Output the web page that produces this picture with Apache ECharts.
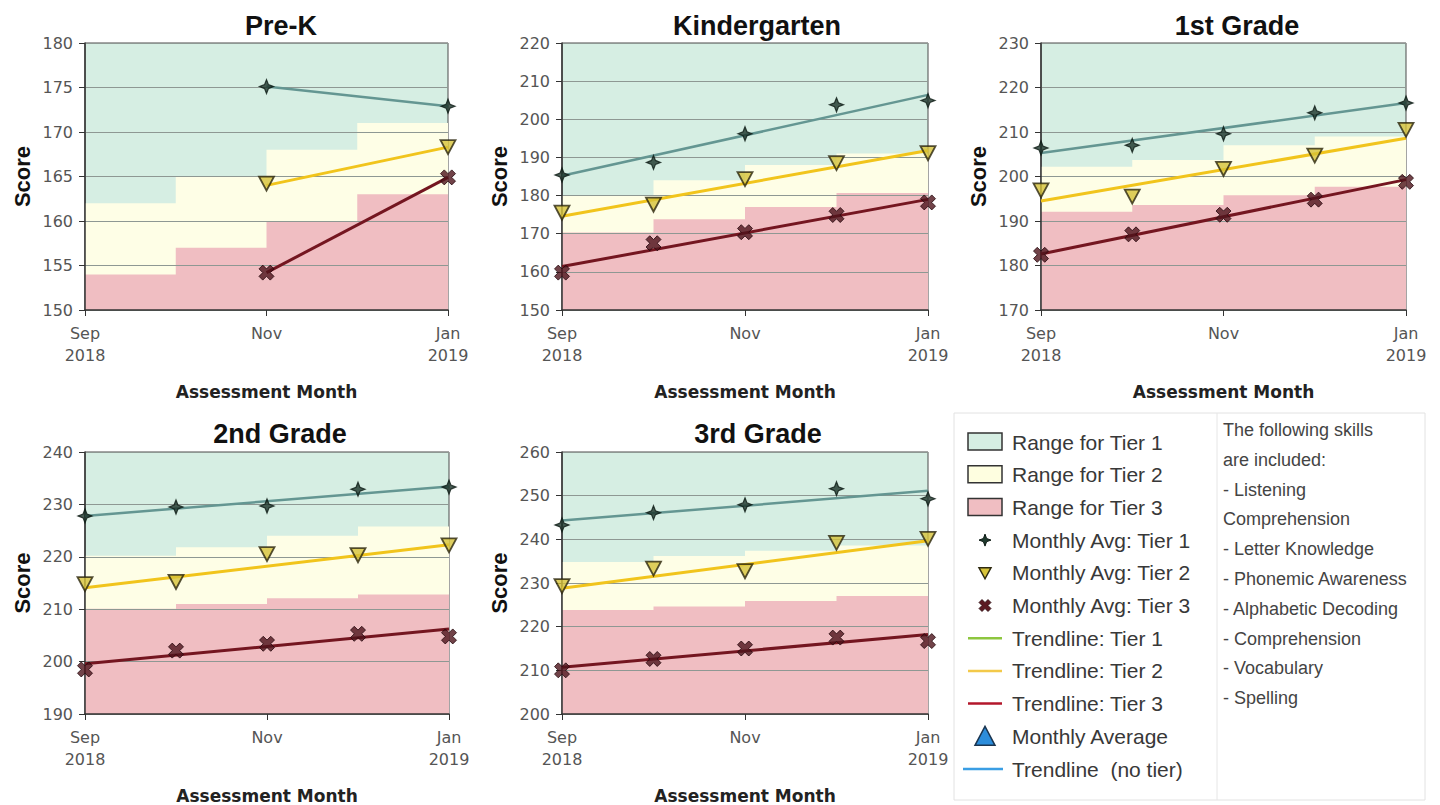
<!DOCTYPE html>
<html><head><meta charset="utf-8">
<script src="https://cdn.jsdelivr.net/npm/echarts@6/dist/echarts.min.js"></script>
<style>html,body{margin:0;padding:0;background:#fff}#c{width:1440px;height:805px}</style>
</head><body><div id="c"></div>
<script>
// ---------- data ----------
const MONTHS = ['Sep\n2018', 'Oct', 'Nov', 'Dec', 'Jan\n2019'];
const PANEL_TITLES = ['Pre-K', 'Kindergarten', '1st Grade', '2nd Grade', '3rd Grade'];
const Y_MIN = [150, 150, 170, 190, 200];
const Y_MAX = [180, 220, 230, 240, 260];
const Y_STEP = [5, 10, 10, 10, 10];

// upper edge of tier ranges (tier 1 range is everything above tier 2)
const PREK_BAND_T2 = [162, 165, 168, 171, 171];
const PREK_BAND_T3 = [154, 157, 160, 163, 163];
const K_BAND_T2 = [180, 184, 188, 191, 191];
const K_BAND_T3 = [170.3, 173.8, 177, 180.7, 180.7];
const G1_BAND_T2 = [202.2, 203.7, 207, 209, 209];
const G1_BAND_T3 = [192.1, 193.6, 195.8, 197.7, 197.7];
const G2_BAND_T2 = [220.2, 221.8, 224, 225.8, 225.8];
const G2_BAND_T3 = [210.1, 211, 212.1, 212.8, 212.8];
const G3_BAND_T2 = [234.8, 236.2, 237.4, 238.6, 238.6];
const G3_BAND_T3 = [223.8, 224.6, 225.9, 227, 227];

// monthly averages
const PREK_AVG_T1 = [null, null, 175.1, null, 172.9];
const PREK_AVG_T2 = [null, null, 164.2, null, 168.3];
const PREK_AVG_T3 = [null, null, 154.2, null, 164.9];
const K_AVG_T1 = [185.4, 188.7, 196.2, 203.8, 204.9];
const K_AVG_T2 = [175.5, 177.6, 184.3, 188.5, 191.1];
const K_AVG_T3 = [159.8, 167.5, 170.4, 174.9, 178.2];
const G1_AVG_T1 = [206.4, 207, 209.6, 214.3, 216.5];
const G1_AVG_T2 = [196.9, 195.5, 201.7, 204.7, 210.5];
const G1_AVG_T3 = [182.4, 187, 191.4, 194.8, 198.8];
const G2_AVG_T1 = [227.8, 229.5, 229.7, 232.9, 233.3];
const G2_AVG_T2 = [214.8, 215.2, 220.5, 220.3, 222.2];
const G2_AVG_T3 = [198.5, 202.1, 203.4, 205.3, 204.8];
const G3_AVG_T1 = [243.3, 246.1, 247.9, 251.6, 249.3];
const G3_AVG_T2 = [229.3, 233.3, 232.7, 239.2, 240.1];
const G3_AVG_T3 = [210, 212.6, 215, 217.5, 216.7];

// trendlines: [value at first month, value at last month]
const TREND_START = [2, 0, 0, 0, 0];
const PREK_TREND_T1 = [175.1, 172.9];
const PREK_TREND_T2 = [164.0, 168.3];
const PREK_TREND_T3 = [154.2, 164.9];
const K_TREND_T1 = [185.2, 206.4];
const K_TREND_T2 = [174.6, 191.8];
const K_TREND_T3 = [161.4, 179.0];
const G1_TREND_T1 = [205.3, 216.5];
const G1_TREND_T2 = [194.5, 208.6];
const G1_TREND_T3 = [182.6, 199.3];
const G2_TREND_T1 = [227.8, 233.4];
const G2_TREND_T2 = [214.1, 222.3];
const G2_TREND_T3 = [199.6, 206.2];
const G3_TREND_T1 = [244.3, 251.1];
const G3_TREND_T2 = [228.8, 239.7];
const G3_TREND_T3 = [210.7, 218.2];

const LEGEND_LABELS = ['Range for Tier 1', 'Range for Tier 2', 'Range for Tier 3',
  'Monthly Avg: Tier 1', 'Monthly Avg: Tier 2', 'Monthly Avg: Tier 3',
  'Trendline: Tier 1', 'Trendline: Tier 2', 'Trendline: Tier 3',
  'Monthly Average', 'Trendline  (no tier)'];
const SKILLS_NOTE = ['The following skills', 'are included:', '- Listening', 'Comprehension',
  '- Letter Knowledge', '- Phonemic Awareness', '- Alphabetic Decoding', '- Comprehension',
  '- Vocabulary', '- Spelling'];

// ---------- assembly ----------
const PANELS = [
  {b2: PREK_BAND_T2, b3: PREK_BAND_T3, a1: PREK_AVG_T1, a2: PREK_AVG_T2, a3: PREK_AVG_T3, t1: PREK_TREND_T1, t2: PREK_TREND_T2, t3: PREK_TREND_T3},
  {b2: K_BAND_T2, b3: K_BAND_T3, a1: K_AVG_T1, a2: K_AVG_T2, a3: K_AVG_T3, t1: K_TREND_T1, t2: K_TREND_T2, t3: K_TREND_T3},
  {b2: G1_BAND_T2, b3: G1_BAND_T3, a1: G1_AVG_T1, a2: G1_AVG_T2, a3: G1_AVG_T3, t1: G1_TREND_T1, t2: G1_TREND_T2, t3: G1_TREND_T3},
  {b2: G2_BAND_T2, b3: G2_BAND_T3, a1: G2_AVG_T1, a2: G2_AVG_T2, a3: G2_AVG_T3, t1: G2_TREND_T1, t2: G2_TREND_T2, t3: G2_TREND_T3},
  {b2: G3_BAND_T2, b3: G3_BAND_T3, a1: G3_AVG_T1, a2: G3_AVG_T2, a3: G3_AVG_T3, t1: G3_TREND_T1, t2: G3_TREND_T2, t3: G3_TREND_T3}
];

const GRID_POS = [
  {left: 85, top: 43, width: 363, height: 267},
  {left: 562, top: 43, width: 366, height: 267},
  {left: 1041, top: 43, width: 365, height: 267},
  {left: 85, top: 452, width: 364, height: 265},
  {left: 562, top: 452, width: 366, height: 265}
];
const TITLE_POS = [[281, 27], [757, 27], [1237, 27], [280, 435], [758, 435]];

const C_T1 = '#d6eee3', C_T2 = '#fefee6', C_T3 = '#f0bec2';
const C_TR1 = '#649692', C_TR2 = '#f1c41c', C_TR3 = '#741620';
const STAR = 'path://M0,-10 L2.8,-2.8 L10,0 L2.8,2.8 L0,10 L-2.8,2.8 L-10,0 L-2.8,-2.8 Z';
const TRI_DOWN = 'path://M-10,-8 L10,-8 L0,9 Z';
const XMARK = 'path://M-10,-5 L-5,-10 L0,-5 L5,-10 L10,-5 L5,0 L10,5 L5,10 L0,5 L-5,10 L-10,5 L-5,0 Z';

const grids = [], xAxes = [], yAxes = [], series = [], titles = [];
PANELS.forEach((p, i) => {
  grids.push(Object.assign({show: true, backgroundColor: C_T1, borderColor: '#4a4a4a', borderWidth: 1, containLabel: false}, GRID_POS[i]));
  titles.push({text: PANEL_TITLES[i], left: TITLE_POS[i][0], top: TITLE_POS[i][1] - 15, textAlign: 'center', padding: 0,
    textStyle: {fontFamily: 'Liberation Sans', fontWeight: 'bold', fontSize: 27, color: '#111'}});
  xAxes.push({gridIndex: i, type: 'category', data: MONTHS, boundaryGap: false, z: 3,
    axisLine: {show: true, lineStyle: {color: '#333', width: 1.5}},
    axisTick: {show: true, interval: 1, length: 6, lineStyle: {color: '#333'}},
    axisLabel: {interval: 1, color: '#555', fontSize: 16, fontFamily: 'DejaVu Sans', lineHeight: 22, margin: 12},
    splitLine: {show: false},
    name: 'Assessment Month', nameLocation: 'middle', nameGap: 73,
    nameTextStyle: {fontFamily: 'DejaVu Sans', fontWeight: 'bold', fontSize: 17, color: '#222'}});
  yAxes.push({gridIndex: i, type: 'value', min: Y_MIN[i], max: Y_MAX[i], interval: Y_STEP[i], z: 3,
    axisLine: {show: true, lineStyle: {color: '#333', width: 1.5}},
    axisTick: {show: true, length: 6, lineStyle: {color: '#333'}},
    axisLabel: {color: '#555', fontSize: 16, fontFamily: 'DejaVu Sans', margin: 12},
    splitLine: {show: true, lineStyle: {color: '#8e9893', width: 1}},
    name: 'Score', nameLocation: 'middle', nameGap: 52, nameRotate: 90,
    nameTextStyle: {fontFamily: 'Liberation Sans', fontWeight: 'bold', fontSize: 22, color: '#111'}});
  const ax = {xAxisIndex: i, yAxisIndex: i};
  series.push(Object.assign({type: 'line', step: 'end', data: p.b2, symbol: 'none', silent: true, z: 1,
    lineStyle: {width: 0}, areaStyle: {color: C_T2, opacity: 1, origin: 'start'}}, ax));
  series.push(Object.assign({type: 'line', step: 'end', data: p.b3, symbol: 'none', silent: true, z: 2,
    lineStyle: {width: 0}, areaStyle: {color: C_T3, opacity: 1, origin: 'start'}}, ax));
  const s = TREND_START[i], e = MONTHS.length - 1;
  [[p.t1, C_TR1, 2.5], [p.t2, C_TR2, 3], [p.t3, C_TR3, 3]].forEach(([t, c, w]) => {
    series.push(Object.assign({type: 'line', data: [[MONTHS[s], t[0]], [MONTHS[e], t[1]]], symbol: 'none', z: 4,
      lineStyle: {color: c, width: w}}, ax));
  });
  series.push(Object.assign({type: 'scatter', data: p.a1, symbol: STAR, symbolSize: 14, z: 5,
    itemStyle: {color: '#1c3329', borderColor: '#0d1a14', borderWidth: 1.2}}, ax));
  series.push(Object.assign({type: 'scatter', data: p.a2, symbol: TRI_DOWN, symbolSize: [15, 14], z: 5,
    itemStyle: {color: '#d6c238', borderColor: '#2a260e', borderWidth: 1.8}}, ax));
  series.push(Object.assign({type: 'scatter', data: p.a3, symbol: XMARK, symbolSize: 15, z: 5,
    itemStyle: {color: '#4e141b', borderColor: '#24080c', borderWidth: 1}}, ax));
});

// ---------- legend panel ----------
const LX = 954, LY = 413, LW = 471, LH = 387, DIV_X = 1217;
const ROW0 = 442, ROW_H = 32.7, ICON_X = 985, TEXT_X = 1012;
const graphics = [
  {type: 'rect', shape: {x: LX, y: LY, width: LW, height: LH}, style: {fill: '#fff', stroke: '#e2e2e2', lineWidth: 1}},
  {type: 'line', shape: {x1: DIV_X, y1: LY, x2: DIV_X, y2: LY + LH}, style: {stroke: '#e6e6e6', lineWidth: 1}}
];
function poly(cx, cy, pts, fill, stroke, lw) {
  return {type: 'polygon', shape: {points: pts.map(([a, b]) => [cx + a, cy + b])}, style: {fill, stroke, lineWidth: lw}};
}
LEGEND_LABELS.forEach((lab, k) => {
  const cy = ROW0 + k * ROW_H;
  if (k < 3) {
    graphics.push({type: 'rect', shape: {x: ICON_X - 17, y: cy - 9, width: 34, height: 17},
      style: {fill: [C_T1, '#fefee0', C_T3][k], stroke: '#333', lineWidth: 1.5}});
  } else if (k === 3) {
    graphics.push(poly(ICON_X, cy, [[0,-6],[1.6,-1.6],[6,0],[1.6,1.6],[0,6],[-1.6,1.6],[-6,0],[-1.6,-1.6]], '#1f3a2e', '#0d1a14', 1));
  } else if (k === 4) {
    graphics.push(poly(ICON_X, cy, [[-6,-5],[6,-5],[0,6]], '#d8c43a', '#2e2a10', 1.5));
  } else if (k === 5) {
    graphics.push(poly(ICON_X, cy, [[-6,-3],[-3,-6],[0,-3],[3,-6],[6,-3],[3,0],[6,3],[3,6],[0,3],[-3,6],[-6,3],[-3,0]], '#5b1a22', '#2a0a0e', 0.8));
  } else if (k >= 6 && k <= 8) {
    graphics.push({type: 'line', shape: {x1: ICON_X - 17, y1: cy, x2: ICON_X + 17, y2: cy},
      style: {stroke: ['#8dc63f', '#f3c94a', '#b3172b'][k - 6], lineWidth: 2.5}});
  } else if (k === 9) {
    graphics.push(poly(ICON_X, cy, [[-10,9],[10,9],[0,-10]], '#2c8ddb', '#1b3550', 1.5));
  } else {
    graphics.push({type: 'line', shape: {x1: ICON_X - 22, y1: cy, x2: ICON_X + 18, y2: cy},
      style: {stroke: '#3a9ee4', lineWidth: 2.5}});
  }
  graphics.push({type: 'text', x: TEXT_X, y: cy, style: {text: lab, fill: '#383838',
    font: '21px "Liberation Sans"', align: 'left', verticalAlign: 'middle'}});
});
SKILLS_NOTE.forEach((t, k) => {
  graphics.push({type: 'text', x: 1223, y: 430 + k * 29.8, style: {text: t, fill: '#444',
    font: '18px "Liberation Sans"', align: 'left', verticalAlign: 'middle'}});
});

const chart = echarts.init(document.getElementById('c'), null, {renderer: 'svg'});
chart.setOption({
  animation: false,
  backgroundColor: '#fff',
  title: titles,
  grid: grids,
  xAxis: xAxes,
  yAxis: yAxes,
  series: series,
  graphic: graphics
});
</script></body></html>
